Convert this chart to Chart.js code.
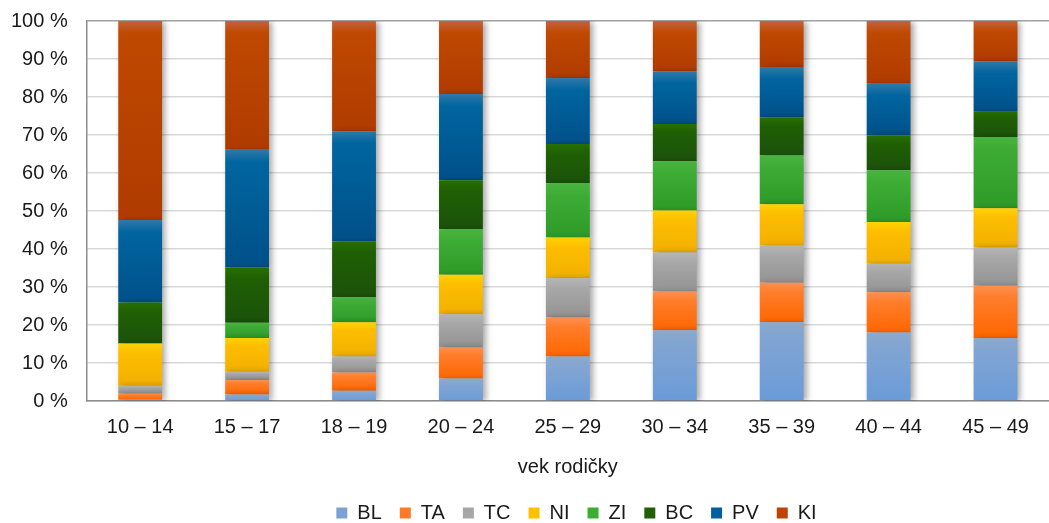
<html lang="sk">
  <head>
    <meta charset="UTF-8" />
    <title>vek rodičky</title>
    <script src="https://cdn.jsdelivr.net/npm/chart.js@4/dist/chart.umd.min.js"></script>
    <style>
      body { margin: 0; background: #fff; }
      #wrap { width: 1049px; height: 523px; }
    </style>
  </head>
  <body>
    <div id="wrap"><canvas id="chart"></canvas></div>
    <script>
      // categories and series (percent shares)
      const ageGroups = ["10 – 14", "15 – 17", "18 – 19", "20 – 24", "25 – 29", "30 – 34", "35 – 39", "40 – 44", "45 – 49"];
      const seriesNames = ["BL", "TA", "TC", "NI", "ZI", "BC", "PV", "KI"];
      const BL = [0.3, 1.7, 2.7, 5.9, 11.7, 18.7, 20.8, 18.0, 16.6];
      const TA = [1.6, 3.8, 4.8, 8.2, 10.3, 10.1, 10.3, 10.6, 13.7];
      const TC = [2.1, 2.2, 4.2, 8.7, 10.4, 10.3, 9.8, 7.5, 10.1];
      const NI = [11.1, 8.9, 9.0, 10.4, 10.6, 11.0, 10.9, 11.0, 10.3];
      const ZI = [0.0, 4.0, 6.6, 12.0, 14.3, 13.0, 12.8, 13.6, 18.8];
      const BC = [10.8, 14.5, 14.7, 12.9, 10.3, 9.8, 10.1, 9.2, 6.6];
      const PV = [21.7, 31.0, 29.0, 22.7, 17.4, 13.9, 13.2, 13.6, 13.3];
      const KI = [52.4, 33.9, 29.0, 19.2, 15.0, 13.2, 12.1, 16.5, 10.6];
      const series = [BL, TA, TC, NI, ZI, BC, PV, KI];

      // flat colour (legend) and gradient stops (top, main, bottom) per series
      const flatColors = ["#7ba2d3", "#ff7a26", "#a6a6a6", "#ffc000", "#3cad33", "#1f5f06", "#005f9c", "#bb4500"];
      const gradColors = [
        ["#8ea9cb", "#82a5d2", "#6a9bd8"],
        ["#ff8f4f", "#ff7d2a", "#ff6600"],
        ["#b5b5b5", "#a8a8a8", "#939393"],
        ["#ffd200", "#fdbd00", "#f2b000"],
        ["#48b43e", "#3dac35", "#2e9a27"],
        ["#276f01", "#1f5f04", "#1b520b"],
        ["#3079a8", "#00659f", "#005089"],
        ["#c4623e", "#bf4900", "#b03b00"],
      ];

      function segmentFill(d) {
        return function (context) {
          const chart = context.chart;
          const yScale = chart.scales.y;
          if (context.type !== "data" || !chart.chartArea || !yScale) return flatColors[d];
          const i = context.dataIndex;
          let start = 0;
          for (let k = 0; k < d; k++) start += series[k][i];
          const end = start + series[d][i];
          const yTop = yScale.getPixelForValue(end);
          const yBot = yScale.getPixelForValue(start);
          if (!isFinite(yTop) || !isFinite(yBot) || yBot - yTop < 0.5) return flatColors[d];
          const g = chart.ctx.createLinearGradient(0, yTop, 0, yBot);
          g.addColorStop(0, gradColors[d][0]);
          g.addColorStop(Math.min(0.25, 12 / (yBot - yTop)), gradColors[d][1]);
          g.addColorStop(1, gradColors[d][2]);
          return g;
        };
      }

      // soft shadow behind the bars
      const barShadow = {
        id: "barShadow",
        beforeDatasetsDraw(chart) {
          const c = chart.ctx;
          c.save();
          c.shadowColor = "rgba(0,0,0,0.35)";
          c.shadowBlur = 6;
          c.shadowOffsetX = 3;
          c.shadowOffsetY = 1;
        },
        afterDatasetsDraw(chart) {
          chart.ctx.restore();
        },
      };

      // legend sits centred under the plot area, not under the whole canvas
      const legendShift = {
        id: "legendShift",
        afterLayout(chart) {
          chart.legend.left += 56;
          chart.legend.right += 56;
        },
      };

      const font = { family: "'Liberation Sans', Arial, sans-serif", size: 20 };

      new Chart(document.getElementById("chart"), {
        type: "bar",
        data: {
          labels: ageGroups,
          datasets: series.map((values, d) => ({
            label: seriesNames[d],
            data: values,
            backgroundColor: segmentFill(d),
            borderWidth: 0,
            barPercentage: 0.41,
            categoryPercentage: 1,
          })),
        },
        options: {
          responsive: true,
          maintainAspectRatio: false,
          animation: false,
          layout: { padding: { left: -8, right: 0, top: 0, bottom: -10 } },
          plugins: {
            tooltip: { enabled: false },
            legend: {
              position: "bottom",
              labels: {
                font: font,
                color: "#1a1a1a",
                boxWidth: 11,
                boxHeight: 11,
                padding: 18,
                generateLabels: (chart) =>
                  chart.data.datasets.map((ds, d) => ({
                    text: ds.label,
                    fillStyle: flatColors[d],
                    strokeStyle: flatColors[d],
                    lineWidth: 0,
                    datasetIndex: d,
                    fontColor: "#1a1a1a",
                  })),
              },
            },
          },
          scales: {
            x: {
              stacked: true,
              grid: { display: false },
              border: { display: true, color: "#8c8c8c", width: 1.5 },
              ticks: { font: font, color: "#1a1a1a", padding: 6 },
              title: { display: true, text: "vek rodičky", font: font, color: "#1a1a1a", padding: { top: 10, bottom: 6 } },
            },
            y: {
              stacked: true,
              min: 0,
              max: 100,
              afterFit: (scale) => {
                scale.paddingTop = 21;
              },
              grid: {
                color: (ctx) => (ctx.tick && ctx.tick.value === 100 ? "#a0a0a0" : "#d9d9d9"),
                lineWidth: 1.5,
                drawTicks: false,
              },
              border: { display: true, color: "#8c8c8c", width: 1.5 },
              ticks: {
                stepSize: 10,
                font: font,
                color: "#1a1a1a",
                padding: 19,
                callback: (v) => v + " %",
              },
            },
          },
        },
        plugins: [barShadow, legendShift],
      });
    </script>
  </body>
</html>
